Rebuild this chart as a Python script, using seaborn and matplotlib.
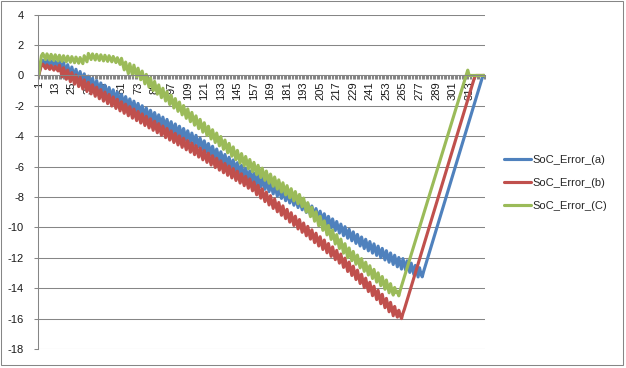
import numpy as np
import pandas as pd
import matplotlib
matplotlib.use("Agg")
import matplotlib.pyplot as plt
import seaborn as sns
from matplotlib.lines import Line2D
from matplotlib.patches import Rectangle

# ---------------- data ----------------
series_names = ["SoC_Error_(a)", "SoC_Error_(b)", "SoC_Error_(C)"]
series_colors = ["#4F81BD", "#C0504D", "#9BBB59"]

tick_labels = ["1", "13", "25", "37", "49", "61", "73", "85", "97", "109", "121",
               "133", "145", "157", "169", "181", "193", "205", "217", "229",
               "241", "253", "265", "277", "289", "301", "313"]
y_ticks = [-18, -16, -14, -12, -10, -8, -6, -4, -2, 0, 2, 4]

soc_a = [
    0.00, 0.45, 0.85, 1.00, 0.85, 0.70, 1.00, 0.85, 0.70, 0.97, 0.82, 0.67,
    0.93, 0.78, 0.63, 1.01, 0.63, 0.25, 0.86, 0.48, 0.10, 0.71, 0.33, -0.05,
    0.56, 0.18, -0.20, 0.41, 0.03, -0.35, 0.26, -0.12, -0.50, 0.11, -0.27, -0.65,
    -0.04, -0.42, -0.80, -0.19, -0.57, -0.95, -0.34, -0.72, -1.10, -0.49, -0.87, -1.25,
    -0.64, -1.02, -1.40, -0.79, -1.17, -1.55, -0.94, -1.32, -1.70, -1.09, -1.47, -1.85,
    -1.24, -1.62, -2.00, -1.39, -1.77, -2.15, -1.54, -1.92, -2.30, -1.69, -2.07, -2.45,
    -1.84, -2.22, -2.60, -1.99, -2.37, -2.75, -2.14, -2.52, -2.90, -2.29, -2.67, -3.05,
    -2.44, -2.82, -3.20, -2.59, -2.97, -3.35, -2.74, -3.12, -3.50, -2.89, -3.27, -3.65,
    -3.04, -3.42, -3.80, -3.19, -3.57, -3.95, -3.34, -3.72, -4.10, -3.49, -3.87, -4.25,
    -3.64, -4.02, -4.40, -3.79, -4.17, -4.55, -3.94, -4.32, -4.70, -4.12, -4.50, -4.88,
    -4.30, -4.68, -5.06, -4.48, -4.86, -5.24, -4.66, -5.04, -5.42, -4.84, -5.22, -5.60,
    -5.02, -5.40, -5.78, -5.20, -5.58, -5.96, -5.38, -5.76, -6.14, -5.56, -5.94, -6.32,
    -5.74, -6.12, -6.50, -5.92, -6.30, -6.68, -6.10, -6.48, -6.86, -6.28, -6.66, -7.04,
    -6.43, -6.81, -7.19, -6.58, -6.96, -7.34, -6.73, -7.11, -7.49, -6.88, -7.26, -7.64,
    -7.03, -7.41, -7.79, -7.18, -7.56, -7.94, -7.33, -7.71, -8.09, -7.48, -7.86, -8.24,
    -7.63, -8.01, -8.39, -7.78, -8.16, -8.54, -7.93, -8.31, -8.69, -8.08, -8.46, -8.84,
    -8.25, -8.63, -9.01, -8.42, -8.80, -9.18, -8.59, -8.97, -9.35, -8.76, -9.14, -9.52,
    -8.93, -9.31, -9.69, -9.10, -9.48, -9.86, -9.27, -9.65, -10.03, -9.44, -9.82, -10.20,
    -9.61, -9.99, -10.37, -9.78, -10.16, -10.54, -9.95, -10.33, -10.71, -10.12, -10.50, -10.88,
    -10.29, -10.67, -11.05, -10.46, -10.84, -11.22, -10.63, -11.01, -11.39, -10.78, -11.16, -11.54,
    -10.93, -11.31, -11.69, -11.08, -11.46, -11.84, -11.23, -11.61, -11.99, -11.38, -11.76, -12.14,
    -11.53, -11.91, -12.29, -11.68, -12.06, -12.44, -11.83, -12.21, -12.59, -11.98, -12.36, -12.74,
    -12.05, -12.43, -12.81, -12.20, -12.58, -12.96, -12.35, -12.73, -13.11, -12.50, -12.88, -13.26,
    -12.65, -13.03, -13.25, -12.90, -12.60, -12.30, -12.00, -11.70, -11.40, -11.10, -10.80, -10.50,
    -10.20, -9.90, -9.60, -9.30, -9.00, -8.70, -8.40, -8.10, -7.80, -7.50, -7.20, -6.90,
    -6.60, -6.30, -6.00, -5.70, -5.40, -5.10, -4.80, -4.50, -4.20, -3.90, -3.60, -3.30,
    -3.00, -2.70, -2.40, -2.10, -1.80, -1.50, -1.20, -0.90, -0.60, -0.30, 0.00, 0.00,
]

soc_b = [
    0.00, 0.35, 0.70, 0.75, 0.60, 0.45, 0.70, 0.55, 0.40, 0.65, 0.50, 0.35,
    0.60, 0.45, 0.30, 0.67, 0.29, -0.09, 0.51, 0.13, -0.25, 0.35, -0.03, -0.41,
    0.19, -0.19, -0.57, 0.03, -0.35, -0.73, -0.13, -0.51, -0.89, -0.29, -0.67, -1.05,
    -0.45, -0.83, -1.21, -0.61, -0.99, -1.37, -0.77, -1.15, -1.53, -0.93, -1.31, -1.69,
    -1.09, -1.47, -1.85, -1.25, -1.63, -2.01, -1.41, -1.79, -2.17, -1.57, -1.95, -2.33,
    -1.73, -2.11, -2.49, -1.89, -2.27, -2.65, -2.05, -2.43, -2.81, -2.21, -2.59, -2.97,
    -2.37, -2.75, -3.13, -2.53, -2.91, -3.29, -2.69, -3.07, -3.45, -2.85, -3.23, -3.61,
    -3.01, -3.39, -3.77, -3.17, -3.55, -3.93, -3.33, -3.71, -4.09, -3.49, -3.87, -4.25,
    -3.65, -4.03, -4.41, -3.81, -4.19, -4.57, -3.97, -4.35, -4.73, -4.13, -4.51, -4.89,
    -4.29, -4.67, -5.05, -4.45, -4.83, -5.21, -4.61, -4.99, -5.37, -4.77, -5.16, -5.55,
    -4.94, -5.33, -5.72, -5.11, -5.50, -5.89, -5.28, -5.67, -6.06, -5.45, -5.84, -6.23,
    -5.62, -6.01, -6.40, -5.79, -6.18, -6.57, -5.96, -6.35, -6.74, -6.13, -6.52, -6.91,
    -6.30, -6.69, -7.08, -6.47, -6.86, -7.25, -6.64, -7.03, -7.42, -6.81, -7.20, -7.59,
    -7.01, -7.43, -7.85, -7.23, -7.65, -8.07, -7.46, -7.88, -8.30, -7.68, -8.10, -8.52,
    -7.91, -8.33, -8.75, -8.13, -8.55, -8.97, -8.36, -8.78, -9.20, -8.58, -9.00, -9.42,
    -8.81, -9.23, -9.65, -9.03, -9.45, -9.87, -9.26, -9.68, -10.10, -9.48, -9.90, -10.32,
    -9.71, -10.13, -10.55, -9.93, -10.35, -10.77, -10.16, -10.58, -11.00, -10.38, -10.80, -11.22,
    -10.61, -11.03, -11.45, -10.83, -11.25, -11.67, -11.06, -11.48, -11.90, -11.28, -11.70, -12.12,
    -11.51, -11.93, -12.35, -11.75, -12.19, -12.63, -12.02, -12.46, -12.90, -12.28, -12.72, -13.16,
    -12.55, -12.99, -13.43, -12.81, -13.25, -13.69, -13.08, -13.52, -13.96, -13.34, -13.78, -14.22,
    -13.61, -14.05, -14.49, -13.87, -14.31, -14.75, -14.14, -14.58, -15.02, -14.40, -14.84, -15.28,
    -14.67, -15.11, -15.55, -14.93, -15.37, -15.81, -15.20, -15.64, -15.90, -15.45, -15.80, -16.00,
    -15.65, -15.40, -15.10, -14.80, -14.50, -14.20, -13.90, -13.60, -13.30, -13.00, -12.70, -12.40,
    -12.10, -11.80, -11.50, -11.20, -10.90, -10.60, -10.30, -10.00, -9.70, -9.40, -9.10, -8.80,
    -8.50, -8.20, -7.90, -7.60, -7.30, -7.00, -6.70, -6.40, -6.10, -5.80, -5.50, -5.20,
    -4.90, -4.60, -4.30, -4.00, -3.70, -3.40, -3.10, -2.80, -2.50, -2.20, -1.90, -1.60,
    -1.30, -1.00, -0.70, -0.40, -0.10, 0.00, 0.00, 0.00, 0.00, 0.00, 0.00, 0.00,
]

soc_c = [
    0.00, 0.70, 1.30, 1.45, 1.25, 1.05, 1.42, 1.22, 1.02, 1.39, 1.19, 0.99,
    1.36, 1.16, 0.96, 1.33, 1.13, 0.93, 1.30, 1.10, 0.90, 1.27, 1.07, 0.87,
    1.24, 1.04, 0.84, 1.21, 1.01, 0.81, 1.18, 0.98, 0.78, 1.30, 1.10, 0.90,
    1.45, 1.25, 1.05, 1.42, 1.22, 1.02, 1.39, 1.19, 0.99, 1.36, 1.16, 0.96,
    1.33, 1.13, 0.93, 1.30, 1.10, 0.90, 1.25, 1.05, 0.85, 1.17, 0.95, 0.73,
    1.13, 0.75, 0.37, 0.88, 0.50, 0.12, 0.78, 0.40, 0.02, 0.68, 0.30, -0.08,
    0.48, 0.10, -0.28, 0.29, -0.13, -0.55, 0.07, -0.35, -0.77, -0.16, -0.58, -1.00,
    -0.39, -0.81, -1.23, -0.62, -1.04, -1.46, -0.84, -1.26, -1.68, -1.07, -1.49, -1.91,
    -1.30, -1.72, -2.14, -1.52, -1.94, -2.36, -1.75, -2.17, -2.59, -1.98, -2.40, -2.82,
    -2.20, -2.62, -3.04, -2.43, -2.85, -3.27, -2.66, -3.08, -3.50, -2.89, -3.31, -3.73,
    -3.11, -3.53, -3.95, -3.34, -3.76, -4.18, -3.57, -3.99, -4.41, -3.79, -4.21, -4.63,
    -4.02, -4.44, -4.86, -4.25, -4.67, -5.09, -4.47, -4.89, -5.31, -4.70, -5.12, -5.54,
    -4.93, -5.35, -5.77, -5.14, -5.54, -5.94, -5.33, -5.73, -6.13, -5.53, -5.93, -6.33,
    -5.72, -6.12, -6.52, -5.91, -6.31, -6.71, -6.10, -6.50, -6.90, -6.29, -6.69, -7.09,
    -6.49, -6.89, -7.29, -6.68, -7.08, -7.48, -6.87, -7.27, -7.67, -7.06, -7.46, -7.86,
    -7.25, -7.65, -8.05, -7.45, -7.85, -8.25, -7.64, -8.04, -8.44, -7.83, -8.23, -8.63,
    -8.07, -8.53, -8.99, -8.37, -8.83, -9.29, -8.67, -9.13, -9.59, -8.97, -9.43, -9.89,
    -9.27, -9.73, -10.19, -9.57, -10.03, -10.49, -9.87, -10.33, -10.79, -10.17, -10.63, -11.09,
    -10.47, -10.93, -11.39, -10.77, -11.23, -11.69, -11.07, -11.53, -11.99, -11.35, -11.77, -12.19,
    -11.58, -12.00, -12.42, -11.82, -12.24, -12.66, -12.05, -12.47, -12.89, -12.29, -12.71, -13.13,
    -12.52, -12.94, -13.36, -12.76, -13.18, -13.60, -12.99, -13.41, -13.83, -13.23, -13.65, -14.07,
    -13.46, -13.88, -14.30, -13.70, -14.12, -14.45, -13.95, -14.30, -14.20, -14.50, -14.15, -13.86,
    -13.56, -13.27, -12.97, -12.67, -12.38, -12.08, -11.79, -11.49, -11.19, -10.90, -10.60, -10.31,
    -10.01, -9.71, -9.42, -9.12, -8.83, -8.53, -8.23, -7.94, -7.64, -7.35, -7.05, -6.75,
    -6.46, -6.16, -5.87, -5.57, -5.27, -4.98, -4.68, -4.39, -4.09, -3.79, -3.50, -3.20,
    -2.91, -2.61, -2.31, -2.02, -1.72, -1.43, -1.13, -0.83, -0.54, -0.24, 0.06, 0.35,
    0.00, 0.00, 0.00, 0.00, 0.00, 0.00, 0.00, 0.00, 0.00, 0.00, 0.00, 0.00,
]

# ---------------- figure ----------------
sns.set_theme(style="white")
plt.rcParams["font.family"] = ["Liberation Sans", "DejaVu Sans"]
plt.rcParams["axes.unicode_minus"] = False

GRAY = "#868686"
W, H = 626, 368

categories = np.arange(1, len(soc_a) + 1)
df = pd.DataFrame({
    "Category": np.tile(categories, 3),
    "SoC Error": np.concatenate([soc_a, soc_b, soc_c]),
    "Series": np.repeat(series_names, len(categories)),
})

fig = plt.figure(figsize=(W / 100, H / 100), dpi=100)
fig.patch.set_facecolor("white")
ax = fig.add_axes([38 / W, 1 - 349 / H, (485 - 38) / W, (349 - 14.7) / H])

sns.lineplot(data=df, x="Category", y="SoC Error", hue="Series",
             palette=dict(zip(series_names, series_colors)),
             linewidth=2.25, estimator=None, sort=False, legend=False, ax=ax)

ax.set_xlim(0.5, len(categories) + 0.5)
ax.set_ylim(y_ticks[0], y_ticks[-1])
ax.set_xlabel("")
ax.set_ylabel("")

for s in ["top", "right"]:
    ax.spines[s].set_visible(False)
ax.spines["bottom"].set_position(("data", 0))
for s in ["left", "bottom"]:
    ax.spines[s].set_color(GRAY)
    ax.spines[s].set_linewidth(0.75)

ax.set_xticks([int(t) for t in tick_labels])
ax.set_xticklabels(tick_labels, rotation=90, fontsize=8, color="#1a1a1a")
ax.set_xticks(np.arange(0.5, len(categories) + 1, 1.0), minor=True)
ax.tick_params(axis="x", which="major", length=0, pad=4.5)
ax.tick_params(axis="x", which="minor", length=3, width=0.75, color=GRAY,
               direction="out", bottom=True)

ax.set_yticks(y_ticks)
ax.set_yticklabels([str(v) for v in y_ticks], fontsize=8, color="#1a1a1a")
ax.tick_params(axis="y", which="major", length=3, width=0.75, color=GRAY,
               direction="out", pad=7, left=True)

ax.grid(axis="y", color=GRAY, linewidth=0.75)
ax.grid(axis="x", visible=False)
ax.set_axisbelow(True)

handles = [Line2D([], [], color=c, linewidth=2.25) for c in series_colors]
fig.legend(handles, series_names, loc="upper left",
           bbox_to_anchor=(504 / W, 1 - 155 / H), bbox_transform=fig.transFigure,
           frameon=False, fontsize=8, handlelength=2.4, handletextpad=0.15,
           labelspacing=1.15, borderpad=0, borderaxespad=0)

fig.patches.append(Rectangle((1 / W, (H - 364.5) / H), 622 / W, 363.5 / H,
                             transform=fig.transFigure, fill=False,
                             edgecolor=GRAY, linewidth=0.75))

fig.savefig("out.png", dpi=100)
